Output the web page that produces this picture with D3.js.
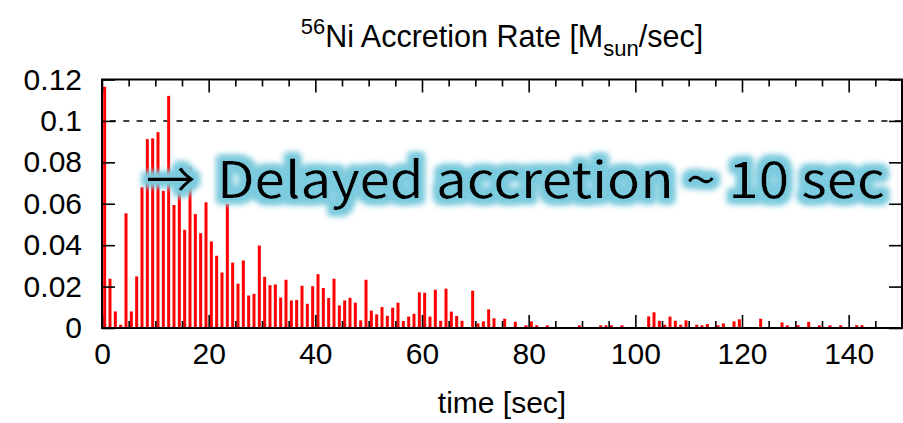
<!DOCTYPE html>
<html>
<head>
<meta charset="utf-8">
<script src="https://cdn.jsdelivr.net/npm/d3@7"></script>
<style>
  body { margin: 0; background: #fff; }
</style>
</head>
<body>
<div id="chart"></div>
<script>
// # 56Ni accretion rate [Msun/sec], one value per 1 sec bin starting at t = 0.
const rate = [
  0.1165, 0.0238, 0.008,  0.0016, 0.0554, 0.008,  0.0249, 0.068,  0.0912, 0.0916,
  0.0946, 0.0662, 0.1121, 0.0594, 0.070,  0.0474, 0.0776, 0.055,  0.0458, 0.0607,
  0.0418, 0.0349, 0.0268, 0.0599, 0.0316, 0.0214, 0.0326, 0.0157, 0.0165, 0.0398,
  0.0247, 0.0207, 0.021,  0.0147, 0.0233, 0.0133, 0.0135, 0.0204, 0.0117, 0.0202,
  0.026,  0.0193, 0.0145, 0.0238, 0.0109, 0.0133, 0.0146, 0.0122, 0.0037, 0.0233,
  0.0084, 0.0066, 0.0101, 0.0059, 0.0098, 0.0122, 0.0034, 0.0055, 0.0069, 0.0172,
  0.017,  0.0055, 0.0185, 0.0035, 0.019,  0.0079, 0.0058, 0.0035, 0,      0.018,
  0.0022, 0.0032, 0.009,  0.0047, 0,      0.0045, 0,      0.003,  0,      0.0013,
  0.0032, 0.0013, 0,      0.0013, 0,      0,      0,      0,      0,      0.0013,
  0,      0,      0,      0.0013, 0.0013, 0.0013, 0,      0.0013, 0,      0,
  0,      0,      0.0056, 0.0076, 0.0035, 0.0016, 0.0055, 0.0035, 0.0016, 0.0037,
  0,      0.0016, 0.0013, 0.0019, 0,      0.0013, 0.0022, 0,      0.0032, 0.0042,
  0,      0,      0,      0.0045, 0,      0,      0,      0.0027, 0.0013, 0,
  0.0014, 0,      0.003,  0,      0.0013, 0,      0.0013, 0,      0.0013, 0,
  0,      0.0014, 0.0014, 0,      0,      0,      0,      0,      0,      0
]
const binStart = d3.range(rate.length)   // # bin i covers [i, i+1) sec

// # Axis ticks.
const xTicks = [0, 20, 40, 60, 80, 100, 120, 140]
const xMinorTicks = [5, 10, 15, 25, 30, 35, 45, 50, 55, 65, 70, 75, 85, 90, 95,
                     105, 110, 115, 125, 130, 135, 145]
const yTicks = [0, 0.02, 0.04, 0.06, 0.08, 0.1, 0.12]
const yTickLabels = ['0', '0.02', '0.04', '0.06', '0.08', '0.1', '0.12']
const refLevel = 0.1

// # Texts.
const titleParts = ['56', 'Ni Accretion Rate [M', 'sun', '/sec]']
const xLabel = 'time [sec]'
const noteArrow = '\u2192'
const noteText = 'Delayed accretion ~ 10 sec'

// # Layout.
const width = 903, height = 423
const plotLeft = 102, plotRight = 902, plotTop = 79.5, plotBottom = 328
const barColor = '#ff0000'
const fontSize = 30
const labelFont = '"Liberation Sans", Arial, sans-serif'
const noteFont = '"Noto Sans CJK JP", "Noto Sans", sans-serif'

const svg = d3.select('#chart').append('svg')
  .attr('width', width)
  .attr('height', height)
  .style('font-family', labelFont)

const x = d3.scaleLinear().domain([0, 150]).range([plotLeft, plotRight])
const y = d3.scaleLinear().domain([0, 0.12]).range([plotBottom, plotTop])

// # Glow filter for the annotation.
const defs = svg.append('defs')
const glow = defs.append('filter').attr('id', 'glow')
  .attr('x', '-5%').attr('y', '-40%').attr('width', '110%').attr('height', '180%')
glow.append('feMorphology').attr('in', 'SourceAlpha').attr('operator', 'dilate')
  .attr('radius', 4.5).attr('result', 'thick')
glow.append('feGaussianBlur').attr('in', 'thick').attr('stdDeviation', 3).attr('result', 'blur')
glow.append('feFlood').attr('flood-color', '#7ccbde').attr('flood-opacity', 1)
glow.append('feComposite').attr('in2', 'blur').attr('operator', 'in').attr('result', 'glowc')
const merge = glow.append('feMerge')
merge.append('feMergeNode').attr('in', 'glowc')
merge.append('feMergeNode').attr('in', 'glowc')
merge.append('feMergeNode').attr('in', 'SourceGraphic')

// # Reference dashed line at 0.1.
svg.append('line')
  .attr('x1', plotLeft).attr('x2', plotRight)
  .attr('y1', y(refLevel)).attr('y2', y(refLevel))
  .attr('stroke', '#000').attr('stroke-width', 1.5)
  .attr('stroke-dasharray', '6,7.3')
  .attr('stroke-dashoffset', -8)

// # Bars.
svg.append('g').selectAll('rect')
  .data(binStart.filter(i => rate[i] > 0))
  .enter().append('rect')
  .attr('x', i => x(i + 0.22))
  .attr('width', i => x(i + 0.78) - x(i + 0.22))
  .attr('y', i => y(rate[i]))
  .attr('height', i => y(0) - y(rate[i]))
  .attr('fill', barColor)

// # Axes with inward ticks on all four sides.
const styleAxis = (g) => {
  g.select('.domain').remove()
  g.selectAll('.tick line').attr('stroke', '#000').attr('stroke-width', 1.6)
  g.selectAll('.tick text')
    .attr('font-family', labelFont)
    .attr('font-size', fontSize)
    .attr('fill', '#000')
}

svg.append('g')
  .attr('transform', `translate(0,${plotBottom})`)
  .call(d3.axisBottom(x).tickValues(xTicks).tickSize(-13).tickPadding(15).tickFormat(d3.format('d')))
  .call(styleAxis)
svg.append('g')
  .attr('transform', `translate(0,${plotBottom})`)
  .call(d3.axisBottom(x).tickValues(xMinorTicks).tickSize(-7).tickFormat(''))
  .call(styleAxis)
svg.append('g')
  .attr('transform', `translate(0,${plotTop})`)
  .call(d3.axisTop(x).tickValues(xTicks).tickSize(-13).tickFormat(''))
  .call(styleAxis)
svg.append('g')
  .attr('transform', `translate(0,${plotTop})`)
  .call(d3.axisTop(x).tickValues(xMinorTicks).tickSize(-7).tickFormat(''))
  .call(styleAxis)
svg.append('g')
  .attr('transform', `translate(${plotLeft},0)`)
  .call(d3.axisLeft(y).tickValues(yTicks).tickSize(-13).tickPadding(20)
    .tickFormat((d, i) => yTickLabels[i]))
  .call(styleAxis)
svg.append('g')
  .attr('transform', `translate(${plotRight},0)`)
  .call(d3.axisRight(y).tickValues(yTicks).tickSize(-13).tickFormat(''))
  .call(styleAxis)

// # Frame.
svg.append('rect')
  .attr('x', plotLeft).attr('y', plotTop)
  .attr('width', plotRight - plotLeft).attr('height', plotBottom - plotTop)
  .attr('fill', 'none').attr('stroke', '#000').attr('stroke-width', 2)

// # Title with super/subscripts.
const title = svg.append('text')
  .attr('x', 502).attr('y', 47)
  .attr('text-anchor', 'middle')
  .attr('font-size', 30.5)
title.append('tspan').text(titleParts[0]).attr('font-size', 22).attr('dy', -13)
title.append('tspan').text(titleParts[1]).attr('dy', 13)
title.append('tspan').text(titleParts[2]).attr('font-size', 22).attr('dy', 9)
title.append('tspan').text(titleParts[3]).attr('dy', -9)

// # X axis label.
svg.append('text')
  .attr('x', 502).attr('y', 413)
  .attr('text-anchor', 'middle')
  .attr('font-size', 30)
  .text(xLabel)

// # Annotation.
const note = svg.append('g').attr('filter', 'url(#glow)')
  .style('font-family', noteFont)
note.append('text')
  .attr('x', 146).attr('y', 198)
  .attr('font-size', 50)
  .text(noteArrow)
note.append('text')
  .attr('x', 217).attr('y', 198)
  .attr('font-size', 50)
  .attr('textLength', 668)
  .attr('lengthAdjust', 'spacingAndGlyphs')
  .text(noteText)
</script>
</body>
</html>
